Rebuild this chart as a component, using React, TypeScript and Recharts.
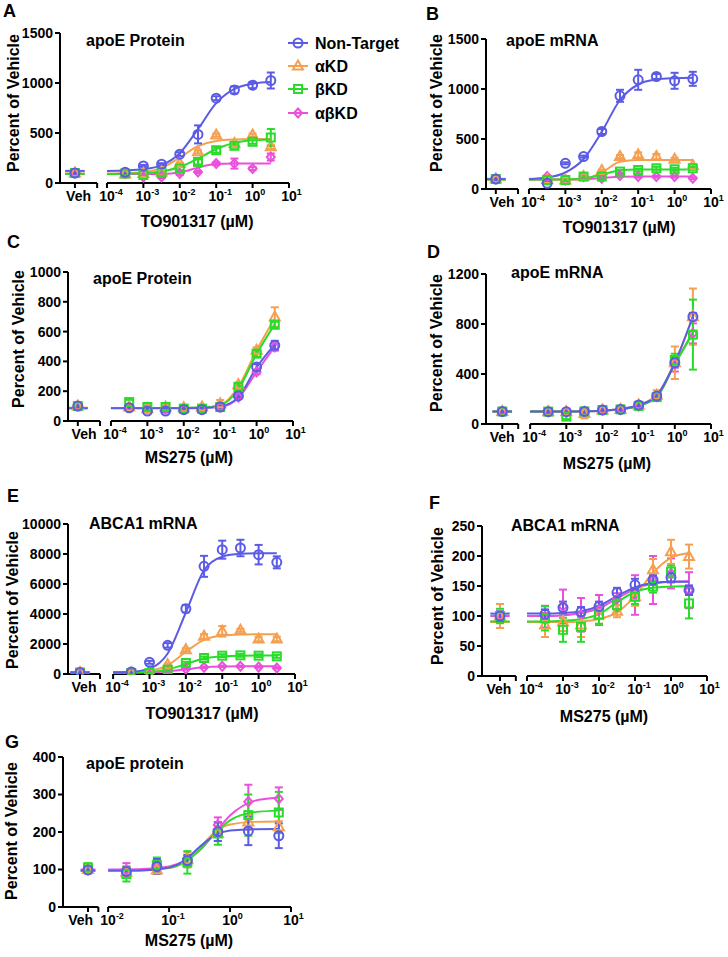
import { ComposedChart, Line, Scatter, ErrorBar, XAxis, YAxis, ReferenceLine } from "recharts";

const FONT = '"Liberation Sans", Arial, Helvetica, sans-serif';

const SERIES_NAMES = ["Non-Target", "αKD", "βKD", "αβKD"];
const SERIES_COLORS = ["#5b5be6", "#f5a050", "#2adc2a", "#eb50dc"];
const SERIES_SHAPES = ["circle", "triangle", "square", "diamond"];

const PANEL_TITLES = ["apoE Protein", "apoE mRNA", "apoE Protein", "apoE mRNA", "ABCA1 mRNA", "ABCA1 mRNA", "apoE protein"];
const X_TITLES = ["TO901317 (µM)", "TO901317 (µM)", "MS275 (µM)", "MS275 (µM)", "TO901317 (µM)", "MS275 (µM)", "MS275 (µM)"];
const Y_LABEL = "Percent of Vehicle";
const VEH_LABEL = "Veh";

// doses as log10(µM); first value of every series array is the vehicle
const DOSE = [-3.5, -3, -2.5, -2, -1.5, -1, -0.5, 0, 0.5];
const FIT_X = [-4, -3.5, -3, -2.5, -2, -1.5, -1, -0.5, 0, 0.5];
const DOSE_G = [-1.7, -1.2, -0.7, -0.2, 0.3, 0.8];
const FIT_X_G = [-2, -1.5, -1, -0.75, -0.5, -0.25, 0, 0.4, 0.8];

const X_MAJORS = [-4, -3, -2, -1, 0, 1];
const X_MAJORS_G = [-2, -1, 0, 1];

const Y_TICKS_A = [0, 500, 1000, 1500];
const Y_TICKS_C = [0, 200, 400, 600, 800, 1000];
const Y_TICKS_D = [0, 400, 800, 1200];
const Y_TICKS_E = [0, 2000, 4000, 6000, 8000, 10000];
const Y_TICKS_F = [0, 50, 100, 150, 200, 250];
const Y_TICKS_G = [0, 100, 200, 300, 400];

// A - apoE protein, TO901317
const A_NT = [100, 107, 171, 188, 288, 486, 848, 931, 978, 1025];
const A_NT_SD = [10, 10, 10, 10, 20, 90, 20, 35, 30, 80];
const A_NT_FIT = [121, 125, 137, 178, 298, 539, 798, 941, 993, 1009];
const A_AK = [100, 90, 95, 110, 194, 312, 479, 395, 479, 362];
const A_AK_SD = [10, 10, 10, 10, 10, 15, 15, 15, 15, 20];
const A_AK_FIT = [96, 98, 109, 151, 255, 369, 421, 435, 439, 440];
const A_BK = [100, 95, 80, 110, 144, 211, 328, 372, 412, 455];
const A_BK_SD = [10, 10, 10, 10, 15, 25, 25, 20, 20, 85];
const A_BK_FIT = [91, 93, 99, 116, 160, 245, 340, 401, 427, 436];
const A_ABK = [100, 94, 60, 60, 94, 110, 194, 194, 144, 260];
const A_ABK_SD = [10, 10, 10, 10, 15, 10, 15, 50, 15, 35];
const A_ABK_FIT = [90, 90, 90, 91, 104, 154, 189, 194, 195, 195];

// B - apoE mRNA, TO901317
const B_NT = [100, 57, 257, 324, 575, 932, 1092, 1125, 1082, 1102];
const B_NT_SD = [10, 10, 10, 10, 25, 60, 100, 25, 80, 70];
const B_NT_FIT = [101, 115, 165, 300, 572, 890, 1045, 1095, 1108, 1113];
const B_AK = [100, 95, 90, 124, 184, 324, 341, 324, 297, 234];
const B_AK_SD = [10, 10, 10, 10, 10, 15, 25, 25, 15, 15];
const B_AK_FIT = [95, 95, 95, 101, 165, 272, 289, 290, 290, 290];
const B_BK = [100, 90, 90, 124, 124, 174, 190, 207, 197, 207];
const B_BK_SD = [10, 10, 10, 10, 10, 15, 15, 15, 15, 15];
const B_BK_FIT = [95, 95, 97, 106, 145, 184, 194, 195, 195, 195];
const B_ABK = [100, 124, 90, 124, 107, 134, 124, 124, 124, 107];
const B_ABK_SD = [10, 10, 10, 10, 10, 10, 10, 10, 10, 10];
const B_ABK_FIT = [95, 95, 95, 98, 110, 122, 125, 125, 125, 125];

// C - apoE protein, MS275
const C_NT = [100, 89, 67, 67, 76, 76, 94, 168, 362, 508];
const C_NT_SD = [10, 10, 10, 10, 10, 10, 10, 10, 20, 30];
const C_NT_FIT = [85, 85, 85, 85, 85, 87, 97, 160, 360, 515];
const C_AK = [100, 94, 83, 94, 89, 94, 116, 244, 474, 698];
const C_AK_SD = [10, 10, 10, 10, 10, 10, 25, 15, 20, 65];
const C_AK_FIT = [88, 88, 88, 88, 88, 90, 108, 230, 475, 690];
const C_BK = [100, 127, 94, 94, 83, 83, 94, 228, 452, 646];
const C_BK_SD = [10, 15, 10, 10, 10, 10, 10, 15, 20, 20];
const C_BK_FIT = [88, 88, 88, 88, 88, 90, 105, 215, 450, 650];
const C_ABK = [100, 94, 89, 83, 83, 89, 94, 161, 329, 497];
const C_ABK_SD = [10, 10, 10, 10, 10, 10, 10, 10, 15, 25];
const C_ABK_FIT = [88, 88, 88, 88, 88, 89, 95, 155, 330, 500];

// D - apoE mRNA, MS275
const D_NT = [100, 99, 99, 101, 112, 117, 152, 224, 491, 859];
const D_NT_SD = [10, 10, 10, 10, 10, 10, 15, 20, 40, 30];
const D_NT_FIT = [100, 100, 100, 102, 107, 120, 150, 228, 490, 860];
const D_AK = [100, 99, 99, 85, 112, 117, 152, 230, 490, 859];
const D_AK_SD = [10, 10, 20, 40, 30, 10, 15, 40, 130, 225];
const D_AK_FIT = [100, 100, 100, 102, 107, 120, 152, 232, 495, 860];
const D_BK = [100, 99, 59, 101, 112, 117, 145, 215, 512, 715];
const D_BK_SD = [10, 10, 20, 10, 10, 10, 10, 20, 50, 280];
const D_BK_FIT = [100, 100, 100, 101, 106, 118, 145, 215, 480, 725];
const D_ABK = [100, 99, 99, 101, 112, 117, 145, 220, 480, 725];
const D_ABK_SD = [10, 10, 10, 10, 10, 10, 10, 20, 60, 80];
const D_ABK_FIT = [100, 100, 100, 101, 106, 118, 146, 218, 482, 735];

// E - ABCA1 mRNA, TO901317
const E_NT = [100, 133, 778, 1911, 4356, 7178, 8289, 8400, 7956, 7444];
const E_NT_SD = [100, 50, 100, 150, 250, 700, 600, 550, 650, 400];
const E_NT_FIT = [110, 148, 362, 1372, 4100, 6920, 7822, 8010, 8045, 8050];
const E_AK = [100, 67, 178, 622, 1622, 2511, 2844, 2911, 2333, 2333];
const E_AK_SD = [50, 50, 50, 80, 100, 150, 350, 100, 150, 150];
const E_AK_FIT = [100, 110, 214, 584, 1480, 2280, 2566, 2630, 2645, 2650];
const E_BK = [100, 67, 67, 289, 733, 1067, 1222, 1244, 1222, 1178];
const E_BK_SD = [50, 50, 50, 50, 80, 100, 100, 100, 100, 100];
const E_BK_FIT = [100, 105, 135, 307, 665, 1030, 1180, 1220, 1228, 1230];
const E_ABK = [100, 67, 67, 178, 333, 444, 511, 511, 467, 400];
const E_ABK_SD = [50, 50, 50, 50, 50, 50, 50, 50, 50, 50];
const E_ABK_FIT = [100, 102, 113, 177, 310, 443, 500, 515, 519, 520];

// F - ABCA1 mRNA, MS275
const F_NT = [100, 103, 114, 107, 116, 139, 152, 160, 164, 143];
const F_NT_SD = [8, 8, 10, 8, 8, 8, 10, 8, 8, 8];
const F_NT_FIT = [104, 104, 105, 108, 117, 133, 148, 155, 157, 157];
const F_AK = [100, 85, 90, 85, 102, 108, 132, 177, 207, 199];
const F_AK_SD = [20, 20, 15, 20, 15, 10, 15, 18, 20, 20];
const F_AK_FIT = [90, 90, 90, 91, 95, 106, 133, 172, 197, 205];
const F_BK = [100, 96, 77, 82, 102, 118, 132, 149, 174, 121];
const F_BK_SD = [12, 20, 20, 25, 15, 10, 12, 10, 10, 25];
const F_BK_FIT = [91, 91, 92, 95, 103, 123, 140, 147, 149, 150];
const F_ABK = [100, 99, 116, 102, 110, 128, 135, 160, 171, 143];
const F_ABK_SD = [20, 18, 28, 28, 25, 10, 33, 40, 25, 30];
const F_ABK_FIT = [100, 100, 101, 105, 113, 129, 145, 154, 157, 158];

// G - apoE protein, MS275
const G_NT = [99, 95, 108, 124, 201, 203, 190];
const G_NT_SD = [8, 10, 20, 15, 25, 38, 33];
const G_NT_FIT = [97, 97.5, 105, 124, 160, 191, 204, 207.6, 208];
const G_AK = [100, 93, 99, 126, 196, 227, 214];
const G_AK_SD = [10, 15, 10, 20, 20, 20, 15];
const G_AK_FIT = [97, 97.5, 104, 119, 157, 200, 220, 227, 228];
const G_BK = [105, 88, 112, 119, 196, 245, 252];
const G_BK_SD = [12, 20, 20, 30, 30, 55, 55];
const G_BK_FIT = [97, 97.8, 104.7, 119, 151, 196, 231, 253, 257];
const G_ABK = [99, 99, 104, 121, 219, 281, 289];
const G_ABK_SD = [10, 18, 10, 15, 20, 45, 30];
const G_ABK_FIT = [100, 101, 108, 122, 151, 197, 244, 283, 292];

type SeriesSet = [number[], number[], number[]];
type Cfg = {
  letter: string;
  idx: number;
  axisX: number;
  xEnd: number;
  top: number;
  zero: number;
  xLeft: number;
  veh: number;
  vehEnd: number;
  stub: number;
  majors: number[];
  yTicks: number[];
  dose: number[];
  fitX: number[];
  sets: SeriesSet[];
  letterXY: [number, number];
  titleXY: [number, number];
  xTitleXY: [number, number];
  yLabelXY: [number, number];
};

const PANELS: Cfg[] = [
  {
    letter: "A", idx: 0, axisX: 60, xEnd: 289, top: 33, zero: 183,
    xLeft: -5.29, veh: -4.88, vehEnd: -4.27, stub: 0.27, majors: X_MAJORS, yTicks: Y_TICKS_A,
    dose: DOSE, fitX: FIT_X,
    sets: [[A_NT, A_NT_SD, A_NT_FIT], [A_AK, A_AK_SD, A_AK_FIT], [A_BK, A_BK_SD, A_BK_FIT], [A_ABK, A_ABK_SD, A_ABK_FIT]],
    letterXY: [3, 11], titleXY: [86, 40], xTitleXY: [197, 221], yLabelXY: [13, 103],
  },
  {
    letter: "B", idx: 1, axisX: 486, xEnd: 711, top: 39, zero: 189,
    xLeft: -5.18, veh: -4.91, vehEnd: -4.3, stub: 0.27, majors: X_MAJORS, yTicks: Y_TICKS_A,
    dose: DOSE, fitX: FIT_X,
    sets: [[B_NT, B_NT_SD, B_NT_FIT], [B_AK, B_AK_SD, B_AK_FIT], [B_BK, B_BK_SD, B_BK_FIT], [B_ABK, B_ABK_SD, B_ABK_FIT]],
    letterXY: [426, 14], titleXY: [506, 40], xTitleXY: [619, 227], yLabelXY: [436, 103],
  },
  {
    letter: "C", idx: 2, axisX: 68, xEnd: 293, top: 272, zero: 421,
    xLeft: -5.18, veh: -4.91, vehEnd: -4.3, stub: 0.27, majors: X_MAJORS, yTicks: Y_TICKS_C,
    dose: DOSE, fitX: FIT_X,
    sets: [[C_NT, C_NT_SD, C_NT_FIT], [C_AK, C_AK_SD, C_AK_FIT], [C_BK, C_BK_SD, C_BK_FIT], [C_ABK, C_ABK_SD, C_ABK_FIT]],
    letterXY: [7, 242], titleXY: [93, 278], xTitleXY: [189, 457], yLabelXY: [18, 339],
  },
  {
    letter: "D", idx: 3, axisX: 486, xEnd: 711, top: 274, zero: 424,
    xLeft: -5.22, veh: -4.77, vehEnd: -4.33, stub: 0.27, majors: X_MAJORS, yTicks: Y_TICKS_D,
    dose: DOSE, fitX: FIT_X,
    sets: [[D_NT, D_NT_SD, D_NT_FIT], [D_AK, D_AK_SD, D_AK_FIT], [D_BK, D_BK_SD, D_BK_FIT], [D_ABK, D_ABK_SD, D_ABK_FIT]],
    letterXY: [427, 252], titleXY: [511, 272], xTitleXY: [607, 463], yLabelXY: [436, 343],
  },
  {
    letter: "E", idx: 4, axisX: 68, xEnd: 295, top: 524, zero: 674,
    xLeft: -5.24, veh: -4.91, vehEnd: -4.36, stub: 0.27, majors: X_MAJORS, yTicks: Y_TICKS_E,
    dose: DOSE, fitX: FIT_X,
    sets: [[E_NT, E_NT_SD, E_NT_FIT], [E_AK, E_AK_SD, E_AK_FIT], [E_BK, E_BK_SD, E_BK_FIT], [E_ABK, E_ABK_SD, E_ABK_FIT]],
    letterXY: [7, 496], titleXY: [89, 523], xTitleXY: [202, 713], yLabelXY: [12, 600],
  },
  {
    letter: "F", idx: 5, axisX: 482, xEnd: 707, top: 526, zero: 676,
    xLeft: -5.25, veh: -4.75, vehEnd: -4.31, stub: 0.27, majors: X_MAJORS, yTicks: Y_TICKS_F,
    dose: DOSE, fitX: FIT_X,
    sets: [[F_NT, F_NT_SD, F_NT_FIT], [F_AK, F_AK_SD, F_AK_FIT], [F_BK, F_BK_SD, F_BK_FIT], [F_ABK, F_ABK_SD, F_ABK_FIT]],
    letterXY: [429, 503], titleXY: [511, 525], xTitleXY: [604, 716], yLabelXY: [437, 596],
  },
  {
    letter: "G", idx: 6, axisX: 63, xEnd: 291, top: 757, zero: 907,
    xLeft: -2.74, veh: -2.33, vehEnd: -2.16, stub: 0.12, majors: X_MAJORS_G, yTicks: Y_TICKS_G,
    dose: DOSE_G, fitX: FIT_X_G,
    sets: [[G_NT, G_NT_SD, G_NT_FIT], [G_AK, G_AK_SD, G_AK_FIT], [G_BK, G_BK_SD, G_BK_FIT], [G_ABK, G_ABK_SD, G_ABK_FIT]],
    letterXY: [5, 742], titleXY: [86, 763], xTitleXY: [189, 940], yLabelXY: [11, 831],
  },
];

const ML = 60;
const MT = 12;
const MR = 20;
const MB = 40;

function Marker({ kind, cx, cy, color }: { kind: string; cx: number; cy: number; color: string }) {
  const common = { fill: "none", stroke: color, strokeWidth: 2 };
  if (kind === "circle") return <circle cx={cx} cy={cy} r={4.5} {...common} />;
  if (kind === "triangle")
    return <polygon points={`${cx},${cy - 5.5} ${cx + 5},${cy + 3.5} ${cx - 5},${cy + 3.5}`} {...common} />;
  if (kind === "square") return <rect x={cx - 4} y={cy - 4} width={8} height={8} {...common} />;
  return <polygon points={`${cx},${cy - 4.5} ${cx + 4},${cy} ${cx},${cy + 4.5} ${cx - 4},${cy}`} {...common} />;
}

function makeXTick(cfg: Cfg) {
  const xMax = cfg.majors[cfg.majors.length - 1];
  const pxPerUnit = (cfg.xEnd - cfg.axisX) / (xMax - cfg.xLeft);
  // the Veh label sits in the middle of the short left axis piece
  const vehShift = ((cfg.xLeft + cfg.vehEnd) / 2 - cfg.veh) * pxPerUnit;
  return (p: any) => {
    const v = p.payload.value;
    const base = {
      y: p.y,
      fontSize: 14,
      fontWeight: 700,
      fontFamily: FONT,
      fill: "#000",
    };
    if (Math.abs(v - cfg.veh) < 1e-6)
      return (
        <text {...base} x={p.x + vehShift} textAnchor="middle" dy="0.71em">
          {VEH_LABEL}
        </text>
      );
    if (Math.abs(v - cfg.vehEnd) < 1e-6) return <g />;
    // "10" centred on the tick, exponent hanging to the right
    return (
      <text {...base} x={p.x - 7.8} textAnchor="start" dy="0.71em">
        <tspan>10</tspan>
        <tspan dy={-6} fontSize={9}>
          {String(v)}
        </tspan>
      </text>
    );
  };
}

function Panel({ cfg }: { cfg: Cfg }) {
  const plotW = cfg.xEnd - cfg.axisX;
  const plotH = cfg.zero - cfg.top;
  const width = ML + plotW + MR;
  const height = MT + plotH + MB;
  const xMin = cfg.majors[0];
  const xMax = cfg.majors[cfg.majors.length - 1];
  const yMax = cfg.yTicks[cfg.yTicks.length - 1];
  const order = [3, 1, 2, 0];

  return (
    <div style={{ position: "absolute", left: cfg.axisX - ML, top: cfg.top - MT }}>
      <ComposedChart width={width} height={height} margin={{ top: MT, right: MR, left: 0, bottom: 0 }}>
        <XAxis
          dataKey="x"
          type="number"
          domain={[cfg.xLeft, xMax]}
          ticks={[cfg.veh, cfg.vehEnd, ...cfg.majors]}
          interval={0}
          allowDataOverflow
          axisLine={false}
          tickLine={{ stroke: "#000", strokeWidth: 2 }}
          tickSize={5}
          tickMargin={3}
          tick={makeXTick(cfg)}
          height={MB}
        />
        <YAxis
          type="number"
          domain={[0, yMax]}
          ticks={cfg.yTicks}
          interval={0}
          allowDataOverflow
          width={ML}
          axisLine={{ stroke: "#000", strokeWidth: 2 }}
          tickLine={{ stroke: "#000", strokeWidth: 2 }}
          tickSize={5}
          tickMargin={2}
          tick={{ fontSize: 14, fontWeight: 700, fill: "#000", fontFamily: FONT }}
        />
        <ReferenceLine
          segment={[{ x: cfg.xLeft, y: 0 }, { x: cfg.vehEnd, y: 0 }]}
          stroke="#000"
          strokeWidth={2}
          ifOverflow="visible"
        />
        <ReferenceLine
          segment={[{ x: xMin, y: 0 }, { x: xMax, y: 0 }]}
          stroke="#000"
          strokeWidth={2}
          ifOverflow="visible"
        />
        {order.map((k) => {
          const [ys, sds, fit] = cfg.sets[k];
          const color = SERIES_COLORS[k];
          const kind = SERIES_SHAPES[k];
          const fitData = cfg.fitX.map((x, i) => ({ x, y: fit[i] }));
          const stubData = [
            { x: cfg.veh - cfg.stub, y: fit[0] },
            { x: cfg.veh + cfg.stub, y: fit[0] },
          ];
          const pts = [{ x: cfg.veh, y: ys[0], e: sds[0] }].concat(
            cfg.dose.map((x, i) => ({ x, y: ys[i + 1], e: sds[i + 1] }))
          );
          return [
            <Line
              key={`fit${k}`}
              data={fitData}
              dataKey="y"
              type="monotone"
              stroke={color}
              strokeWidth={2}
              dot={false}
              activeDot={false}
              isAnimationActive={false}
            />,
            <Line
              key={`stub${k}`}
              data={stubData}
              dataKey="y"
              type="linear"
              stroke={color}
              strokeWidth={2}
              dot={false}
              activeDot={false}
              isAnimationActive={false}
            />,
            <Scatter
              key={`pts${k}`}
              data={pts}
              dataKey="y"
              isAnimationActive={false}
              shape={(p: any) => <Marker kind={kind} cx={p.cx} cy={p.cy} color={color} />}
            >
              <ErrorBar dataKey="e" direction="y" width={4} stroke={color} strokeWidth={2} isAnimationActive={false} />
            </Scatter>,
          ];
        })}
      </ComposedChart>
    </div>
  );
}

const LEGEND_ROWS = [43, 66, 89, 113];

function Overlay() {
  const txt = { fontFamily: FONT, fontWeight: 700, fill: "#000" };
  return (
    <svg
      width={728}
      height={957}
      style={{ position: "absolute", left: 0, top: 0, pointerEvents: "none" }}
    >
      {PANELS.map((cfg) => (
        <g key={cfg.letter}>
          <text x={cfg.letterXY[0]} y={cfg.letterXY[1]} dominantBaseline="central" fontSize={18} {...txt}>
            {cfg.letter}
          </text>
          <text x={cfg.titleXY[0]} y={cfg.titleXY[1]} dominantBaseline="central" fontSize={16} {...txt}>
            {PANEL_TITLES[cfg.idx]}
          </text>
          <text
            x={cfg.xTitleXY[0]}
            y={cfg.xTitleXY[1]}
            textAnchor="middle"
            dominantBaseline="central"
            fontSize={16}
            {...txt}
          >
            {X_TITLES[cfg.idx]}
          </text>
          <text
            transform={`translate(${cfg.yLabelXY[0]},${cfg.yLabelXY[1]}) rotate(-90)`}
            textAnchor="middle"
            dominantBaseline="central"
            fontSize={16}
            {...txt}
          >
            {Y_LABEL}
          </text>
        </g>
      ))}
      {SERIES_NAMES.map((name, k) => (
        <g key={name}>
          <line x1={288} x2={308} y1={LEGEND_ROWS[k]} y2={LEGEND_ROWS[k]} stroke={SERIES_COLORS[k]} strokeWidth={2} />
          <Marker kind={SERIES_SHAPES[k]} cx={298} cy={LEGEND_ROWS[k]} color={SERIES_COLORS[k]} />
          <text x={315} y={LEGEND_ROWS[k]} dominantBaseline="central" fontSize={16} {...txt}>
            {name}
          </text>
        </g>
      ))}
    </svg>
  );
}

export default function App() {
  return (
    <div style={{ position: "absolute", left: 0, top: 0, width: 728, height: 957, background: "#fff" }}>
      {PANELS.map((cfg) => (
        <Panel key={cfg.letter} cfg={cfg} />
      ))}
      <Overlay />
    </div>
  );
}
